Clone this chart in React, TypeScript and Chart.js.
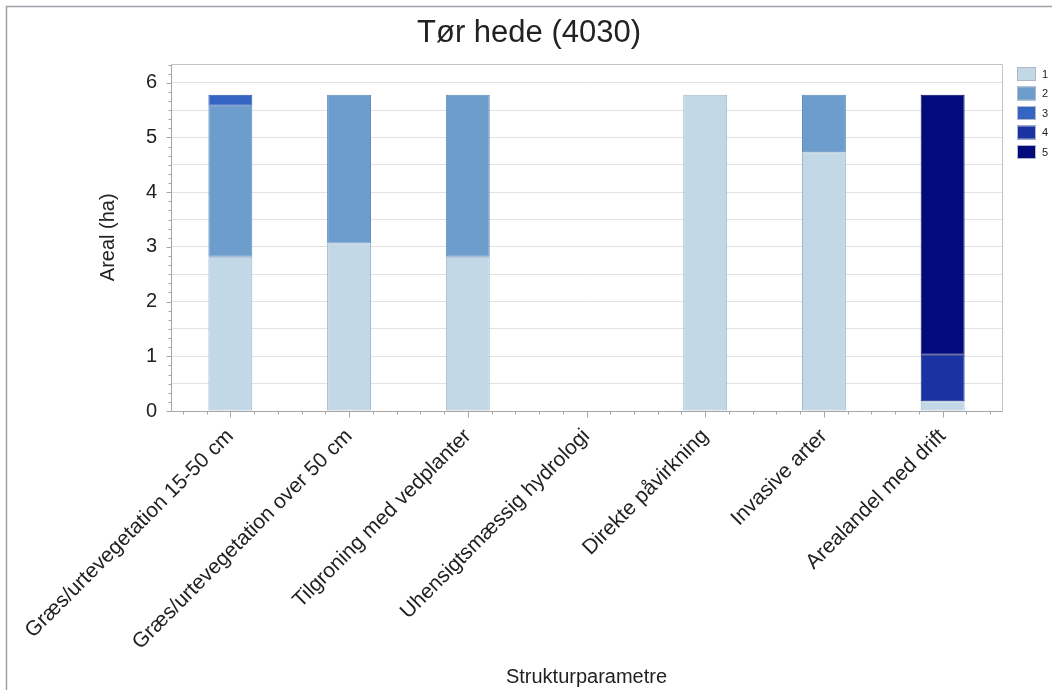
import React, { useEffect, useRef } from "react";
import { Chart, registerables } from "chart.js";

Chart.register(...registerables);

const categories = [
  "Græs/urtevegetation 15-50 cm",
  "Græs/urtevegetation over 50 cm",
  "Tilgroning med vedplanter",
  "Uhensigtsmæssig hydrologi",
  "Direkte påvirkning",
  "Invasive arter",
  "Arealandel med drift",
];
const seriesNames = ["1", "2", "3", "4", "5"];
const series1 = [2.82, 3.06, 2.82, 0, 5.78, 4.73, 0.18];
const series2 = [2.76, 2.72, 2.96, 0, 0, 1.05, 0];
const series3 = [0.2, 0, 0, 0, 0, 0, 0];
const series4 = [0, 0, 0, 0, 0, 0, 0.85];
const series5 = [0, 0, 0, 0, 0, 0, 4.75];
const chartTitle = "Tør hede (4030)";
const yMin = 0;
const yMax = 6.35;

const fills = ["#c3d8e6", "#6d9dcc", "#3565c2", "#1a32a2", "#020a7c"];
const borders = ["#9db6c9", "#5c8abb", "#2c57ad", "#16298a", "#020866"];
const FONT = "'Liberation Sans', Arial, sans-serif";

const decoPlugin = {
  id: "deco",
  beforeDraw(chart: any) {
    const ctx = chart.ctx;
    ctx.save();
    ctx.fillStyle = "#ffffff";
    ctx.fillRect(0, 0, chart.width, chart.height);
    ctx.strokeStyle = "#a0a0a8";
    ctx.lineWidth = 1.5;
    ctx.beginPath();
    ctx.moveTo(6.5, chart.height);
    ctx.lineTo(6.5, 6.5);
    ctx.lineTo(chart.width, 6.5);
    ctx.stroke();
    ctx.restore();
  },
  afterDraw(chart: any) {
    const ctx = chart.ctx;
    const a = chart.chartArea;
    const xs = chart.scales.x;
    const ys = chart.scales.y;
    ctx.save();
    // title (centered on whole frame)
    ctx.fillStyle = "#222222";
    ctx.font = "31px " + FONT;
    ctx.textAlign = "center";
    ctx.textBaseline = "middle";
    ctx.fillText(chartTitle, 529, 33);
    // plot border top/right
    ctx.strokeStyle = "#c4c4c4";
    ctx.lineWidth = 1;
    ctx.beginPath();
    ctx.moveTo(Math.round(a.left) + 0.5, Math.round(a.top) + 0.5);
    ctx.lineTo(Math.round(a.right) + 0.5, Math.round(a.top) + 0.5);
    ctx.lineTo(Math.round(a.right) + 0.5, Math.round(a.bottom) + 0.5);
    ctx.stroke();
    // axes lines
    ctx.strokeStyle = "#a6a6a6";
    ctx.beginPath();
    ctx.moveTo(Math.round(a.left) + 0.5, Math.round(a.top) + 0.5);
    ctx.lineTo(Math.round(a.left) + 0.5, Math.round(a.bottom) + 0.5);
    ctx.lineTo(Math.round(a.right) + 0.5, Math.round(a.bottom) + 0.5);
    ctx.stroke();
    // y minor ticks (1/6 unit)
    ctx.beginPath();
    for (let k = 0; k <= Math.floor(yMax * 6 + 1e-6); k++) {
      const v = k / 6;
      const py = Math.round(ys.getPixelForValue(v)) + 0.5;
      const len = k % 6 === 0 ? 5 : 3;
      ctx.moveTo(Math.round(a.left) + 0.5, py);
      ctx.lineTo(Math.round(a.left) + 0.5 - len, py);
    }
    ctx.stroke();
    // x ticks
    const n = categories.length;
    const cw = (a.right - a.left) / n;
    ctx.beginPath();
    for (let i = 0; i < n; i++) {
      const c = xs.getPixelForValue(i);
      for (let k = -2; k <= 2; k++) {
        const px = Math.round(c + (k * cw) / 5) + 0.5;
        const len = k === 0 ? 6 : 3;
        ctx.moveTo(px, Math.round(a.bottom) + 0.5);
        ctx.lineTo(px, Math.round(a.bottom) + 0.5 + len);
      }
    }
    ctx.stroke();
    // legend
    const ds = chart.data.datasets;
    ctx.font = "11px " + FONT;
    ctx.textBaseline = "middle";
    ctx.textAlign = "left";
    for (let i = 0; i < ds.length; i++) {
      const bx = 1017;
      const by = 67 + i * 19.5;
      ctx.fillStyle = ds[i].backgroundColor;
      ctx.fillRect(bx, by, 19, 14);
      ctx.strokeStyle = "#b0b8c8";
      ctx.lineWidth = 1;
      ctx.strokeRect(bx + 0.5, by + 0.5, 18, 13);
      ctx.fillStyle = "#222222";
      ctx.fillText(ds[i].label, bx + 25, by + 7.5);
    }
    ctx.restore();
  },
};

export default function App() {
  const ref = useRef<HTMLCanvasElement>(null);
  useEffect(() => {
    if (!ref.current) return;
    const all = [series1, series2, series3, series4, series5];
    const chart = new Chart(ref.current, {
      type: "bar",
      data: {
        labels: categories,
        datasets: all.map((d, i) => ({
          label: seriesNames[i],
          data: d,
          backgroundColor: fills[i],
          borderColor: borders[i],
          borderWidth: (c: any) => (c.raw ? 1 : 0),
          borderSkipped: false,
          barPercentage: 0.37,
          categoryPercentage: 1,
        })),
      },
      options: {
        responsive: false,
        animation: false,
        devicePixelRatio: 1,
        layout: { padding: { left: 0, right: 50, top: 0, bottom: 0 } },
        plugins: {
          legend: { display: false },
          tooltip: { enabled: false },
          title: {
            display: true,
            text: chartTitle,
            color: "rgba(0,0,0,0)",
            font: { family: FONT, size: 28, weight: "normal" },
            padding: { top: 16, bottom: 14 },
          },
        },
        scales: {
          x: {
            stacked: true,
            grid: { display: false, drawTicks: false },
            border: { display: false },
            ticks: {
              autoSkip: false,
              minRotation: 45,
              maxRotation: 45,
              padding: 13,
              color: "#222222",
              font: { family: FONT, size: 21 },
            },
            title: {
              display: true,
              text: "Strukturparametre",
              color: "#222222",
              font: { family: FONT, size: 20 },
              padding: { top: 0, bottom: 1 },
            },
            afterFit: (s: any) => {
              s.height = 279;
              s.paddingLeft = 0;
              s.paddingRight = 0;
            },
          },
          y: {
            stacked: true,
            min: yMin,
            max: yMax,
            grid: { color: "#e2e2e2", drawTicks: false },
            border: { display: false },
            ticks: {
              stepSize: 0.5,
              includeBounds: false,
              padding: 14,
              color: "#222222",
              font: { family: FONT, size: 20 },
              callback: (v: any) =>
                Math.abs(v - Math.round(v)) < 1e-6 ? String(Math.round(v)) : "",
            },
            title: {
              display: true,
              text: "Areal (ha)",
              color: "#222222",
              font: { family: FONT, size: 20 },
              padding: { top: 96, bottom: 0 },
            },
            afterFit: (s: any) => {
              s.width = 171;
              s.paddingTop = 0;
              s.paddingBottom = 0;
            },
          },
        },
      },
      plugins: [decoPlugin],
    });
    return () => chart.destroy();
  }, []);
  return (
    <div style={{ position: "absolute", left: 0, top: 0, width: 1052, height: 690 }}>
      <canvas ref={ref} width={1052} height={690} style={{ display: "block" }} />
    </div>
  );
}
